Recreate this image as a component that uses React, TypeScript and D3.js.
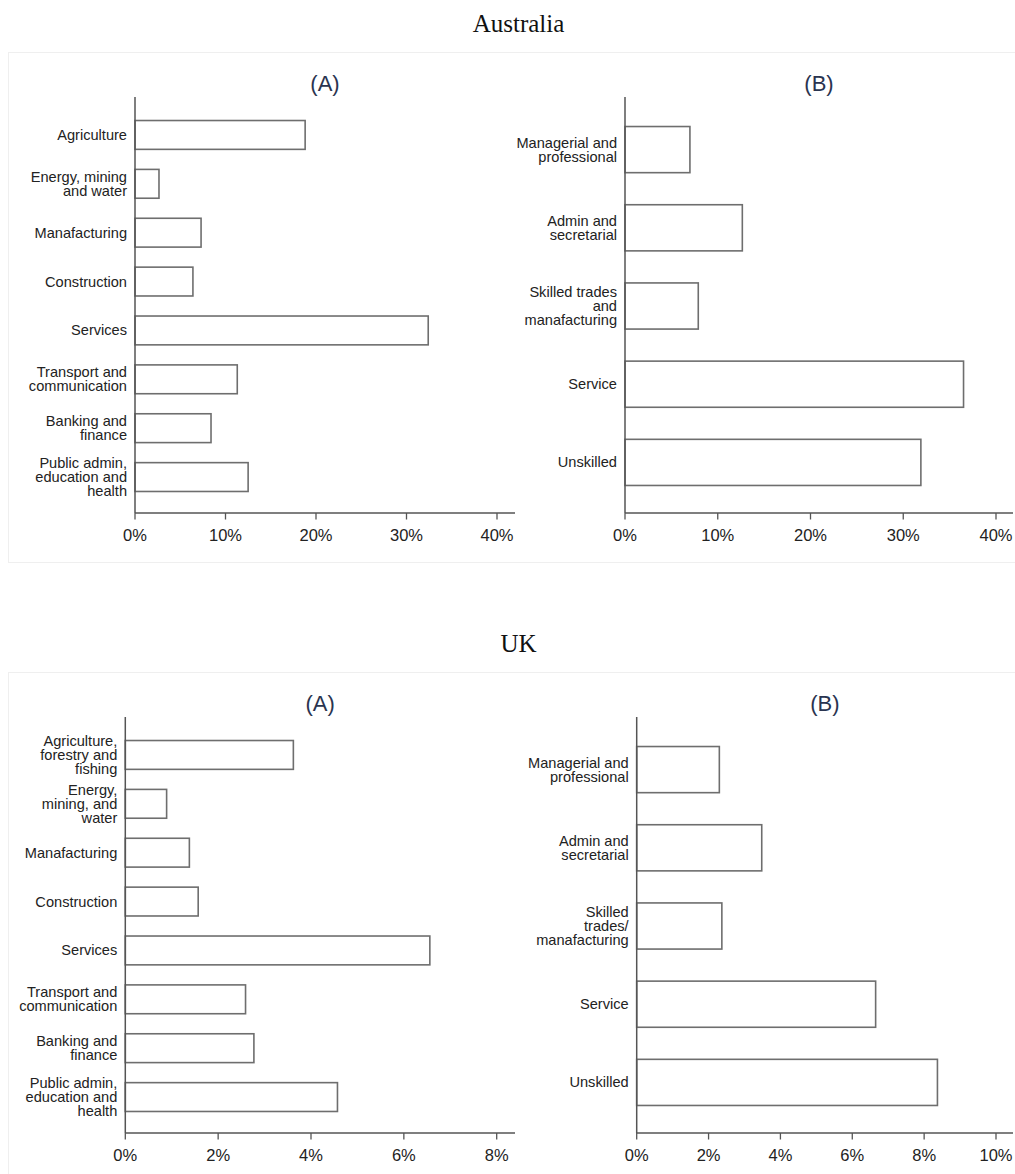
import React from "react";
import * as d3 from "d3";

// ---- Data (percent shares) ----
const ausIndustries = [
  "Agriculture",
  "Energy, mining\nand water",
  "Manafacturing",
  "Construction",
  "Services",
  "Transport and\ncommunication",
  "Banking and\nfinance",
  "Public admin,\neducation and\nhealth",
];
const ausIndustryShare = [18.8, 2.65, 7.3, 6.4, 32.4, 11.3, 8.4, 12.5];
const ausIndustryTicks = [0, 10, 20, 30, 40];

const ausOccupations = [
  "Managerial and\nprofessional",
  "Admin and\nsecretarial",
  "Skilled trades\nand\nmanafacturing",
  "Service",
  "Unskilled",
];
const ausOccupationShare = [7.0, 12.65, 7.9, 36.5, 31.9];
const ausOccupationTicks = [0, 10, 20, 30, 40];

const ukIndustries = [
  "Agriculture,\nforestry and\nfishing",
  "Energy,\nmining, and\nwater",
  "Manafacturing",
  "Construction",
  "Services",
  "Transport and\ncommunication",
  "Banking and\nfinance",
  "Public admin,\neducation and\nhealth",
];
const ukIndustryShare = [3.62, 0.89, 1.38, 1.57, 6.56, 2.59, 2.77, 4.57];
const ukIndustryTicks = [0, 2, 4, 6, 8];

const ukOccupations = [
  "Managerial and\nprofessional",
  "Admin and\nsecretarial",
  "Skilled\ntrades/\nmanafacturing",
  "Service",
  "Unskilled",
];
const ukOccupationShare = [2.3, 3.48, 2.37, 6.65, 8.37];
const ukOccupationTicks = [0, 2, 4, 6, 8, 10];

const countries = ["Australia", "UK"];
const panelTitles = ["(A)", "(B)"];

// ---- Layout ----
const W = 1015;
const H = 1174;
const SANS = "'Liberation Sans', Arial, sans-serif";
const SERIF = "'Liberation Serif', 'Times New Roman', serif";

type PanelSpec = {
  cats: string[];
  vals: number[];
  ticks: number[];
  title: string;
  x0: number;
  xTickEnd: number;
  xEnd: number;
  top: number;
  axisY: number;
};

const panels: PanelSpec[] = [
  { cats: ausIndustries, vals: ausIndustryShare, ticks: ausIndustryTicks, title: panelTitles[0], x0: 135, xTickEnd: 497, xEnd: 515, top: 97, axisY: 513 },
  { cats: ausOccupations, vals: ausOccupationShare, ticks: ausOccupationTicks, title: panelTitles[1], x0: 625, xTickEnd: 996, xEnd: 1013, top: 97, axisY: 513 },
  { cats: ukIndustries, vals: ukIndustryShare, ticks: ukIndustryTicks, title: panelTitles[0], x0: 125.3, xTickEnd: 496.7, xEnd: 515, top: 717, axisY: 1133 },
  { cats: ukOccupations, vals: ukOccupationShare, ticks: ukOccupationTicks, title: panelTitles[1], x0: 636.7, xTickEnd: 996, xEnd: 1013, top: 717, axisY: 1133 },
];

const sections = [
  { name: countries[0], titleY: 32, frameY: 52 },
  { name: countries[1], titleY: 652, frameY: 672 },
];

function Panel({ p }: { p: PanelSpec }) {
  const x = d3
    .scaleLinear()
    .domain([0, p.ticks[p.ticks.length - 1]])
    .range([p.x0, p.xTickEnd]);
  const y = d3
    .scaleBand<string>()
    .domain(p.cats)
    .range([p.top + 13.5, p.axisY - 11.5])
    .paddingInner(0.41)
    .paddingOuter(0.205);
  const lineH = 14;
  return (
    <g>
      <text
        x={(p.x0 + p.xEnd) / 2}
        y={p.top - 6}
        textAnchor="middle"
        fontFamily={SANS}
        fontSize={22}
        fill="#2a3450"
      >
        {p.title}
      </text>
      {/* bars */}
      {p.cats.map((c, i) => (
        <rect
          key={c}
          x={x(0)}
          y={y(c)!}
          width={x(p.vals[i]) - x(0)}
          height={y.bandwidth()}
          fill="#ffffff"
          stroke="#6e6e6e"
          strokeWidth={1.6}
        />
      ))}
      {/* category labels */}
      {p.cats.map((c) => {
        const lines = c.split("\n");
        const cy = y(c)! + y.bandwidth() / 2;
        const firstY = cy - ((lines.length - 1) * lineH) / 2 + 5;
        return (
          <text
            key={"l" + c}
            x={p.x0 - 8}
            textAnchor="end"
            fontFamily={SANS}
            fontSize={14.6}
            fill="#222"
          >
            {lines.map((ln, k) => (
              <tspan key={k} x={p.x0 - 8} y={firstY + k * lineH}>
                {ln}
              </tspan>
            ))}
          </text>
        );
      })}
      {/* axes */}
      <line x1={p.x0} x2={p.x0} y1={p.top} y2={p.axisY} stroke="#555" strokeWidth={1.5} />
      <line x1={p.x0} x2={p.xEnd} y1={p.axisY} y2={p.axisY} stroke="#555" strokeWidth={1.5} />
      {p.ticks.map((t) => (
        <g key={"t" + t}>
          <line x1={x(t)} x2={x(t)} y1={p.axisY} y2={p.axisY + 6.5} stroke="#555" strokeWidth={1.3} />
          <text
            x={x(t)}
            y={p.axisY + 28}
            textAnchor="middle"
            fontFamily={SANS}
            fontSize={16.5}
            fill="#222"
          >
            {t + "%"}
          </text>
        </g>
      ))}
    </g>
  );
}

export default function App() {
  return (
    <svg
      width={W}
      height={H}
      viewBox={`0 0 ${W} ${H}`}
      style={{ position: "absolute", left: 0, top: 0, background: "#fff" }}
    >
      <rect x={0} y={0} width={W} height={H} fill="#fff" />
      {sections.map((s) => (
        <g key={s.name}>
          <text x={518.5} y={s.titleY} textAnchor="middle" fontFamily={SERIF} fontSize={25} fill="#111">
            {s.name}
          </text>
          <rect x={8.5} y={s.frameY + 0.5} width={1012} height={510} fill="none" stroke="#efefef" strokeWidth={1} />
        </g>
      ))}
      {panels.map((p, i) => (
        <Panel key={i} p={p} />
      ))}
    </svg>
  );
}
